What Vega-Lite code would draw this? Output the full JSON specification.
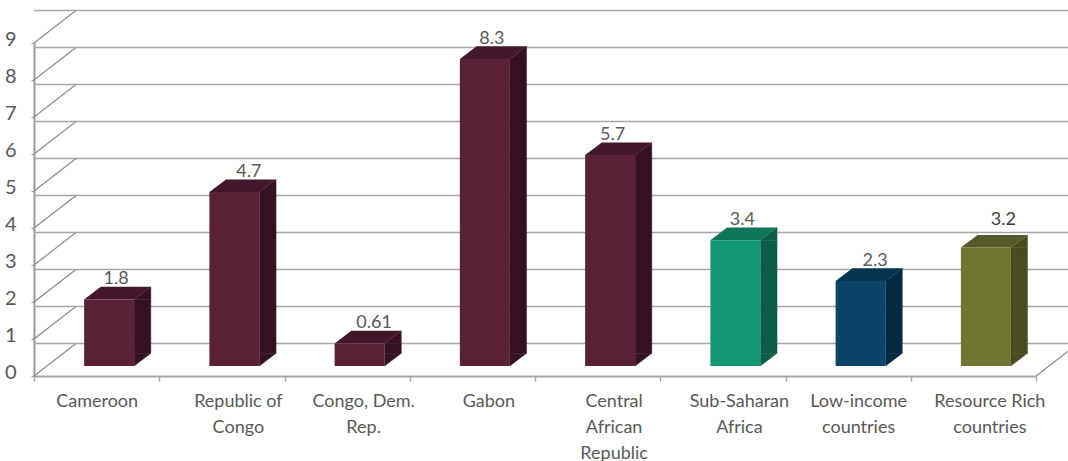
{
  "$schema": "https://vega.github.io/schema/vega-lite/v6.json",
  "width": 1002,
  "height": 333,
  "autosize": "none",
  "padding": {"left": 34, "top": 43, "right": 32, "bottom": 85},
  "background": "#ffffff",
  "config": {
    "view": {"stroke": null}
  },
  "datasets": {
    "levels": [
      {"level": 0}, {"level": 1}, {"level": 2}, {"level": 3}, {"level": 4},
      {"level": 5}, {"level": 6}, {"level": 7}, {"level": 8}, {"level": 9}
    ],
    "bars": [
      {"country": "Cameroon", "value": 1.8, "label": "1.8", "group": "Country"},
      {"country": "Republic of Congo", "value": 4.7, "label": "4.7", "group": "Country"},
      {"country": "Congo, Dem. Rep.", "value": 0.61, "label": "0.61", "group": "Country"},
      {"country": "Gabon", "value": 8.3, "label": "8.3", "group": "Country"},
      {"country": "Central African Republic", "value": 5.7, "label": "5.7", "group": "Country"},
      {"country": "Sub-Saharan Africa", "value": 3.4, "label": "3.4", "group": "Sub-Saharan Africa"},
      {"country": "Low-income countries", "value": 2.3, "label": "2.3", "group": "Low-income"},
      {"country": "Resource Rich countries", "value": 3.2, "label": "3.2", "group": "Resource Rich"}
    ]
  },
  "resolve": {"scale": {"color": "independent", "stroke": "independent"}, "axis": {"x": "independent", "y": "independent"}},
  "layer": [
    {
      "data": {"name": "levels"},
      "mark": {"type": "rule", "color": "#a6a6a6", "strokeWidth": 1.6, "xOffset": 42, "x2Offset": 42, "yOffset": -32.5},
      "encoding": {
        "y": {
          "field": "level", "type": "quantitative",
          "scale": {"domain": [0, 9], "nice": false},
          "axis": {
            "title": null, "grid": false, "values": [0, 1, 2, 3, 4, 5, 6, 7, 8, 9], "format": "d",
            "domainColor": "#9a9a9a", "domainWidth": 2, "tickColor": "#9a9a9a", "tickSize": 3, "tickWidth": 1.2,
            "labelFont": "Lato", "labelFontSize": 20, "labelColor": "#595959",
            "labelPadding": 15, "labelOffset": -4
          }
        }
      }
    },
    {
      "data": {"name": "levels"},
      "mark": {"type": "point", "shape": "M0,0L42,-32.5", "size": 4, "filled": false, "stroke": "#8c8c8c", "strokeWidth": 1.2, "opacity": 1},
      "encoding": {
        "x": {"datum": "Cameroon", "type": "nominal", "bandPosition": 0, "axis": null,
          "scale": {"type": "band", "padding": 0, "domain": ["Cameroon", "Republic of Congo", "Congo, Dem. Rep.", "Gabon", "Central African Republic", "Sub-Saharan Africa", "Low-income countries", "Resource Rich countries"]}},
        "y": {"field": "level", "type": "quantitative", "axis": null}
      }
    },
    {
      "data": {"values": [{"level": 0}]},
      "mark": {"type": "point", "shape": "M0,0L42,-32.5", "size": 4, "filled": false, "stroke": "#8c8c8c", "strokeWidth": 1.2, "opacity": 1},
      "encoding": {
        "x": {"datum": "Resource Rich countries", "type": "nominal", "bandPosition": 1, "axis": null},
        "y": {"field": "level", "type": "quantitative", "axis": null}
      }
    },
    {
      "data": {"name": "bars"},
      "resolve": {"scale": {"color": "independent", "stroke": "independent"}, "axis": {"x": "independent", "y": "independent"}},
      "encoding": {
        "x": {
          "field": "country", "type": "nominal", "sort": null,
          "axis": null
        }
      },
      "layer": [
        {
          "encoding": {
            "color": {"field": "group", "type": "nominal", "legend": null, "scale": {"domain": ["Country", "Sub-Saharan Africa", "Low-income", "Resource Rich"], "range": ["#351221", "#0c5f47", "#032a43", "#494c1e"]}},
            "stroke": {"field": "group", "type": "nominal", "legend": null, "scale": {"domain": ["Country", "Sub-Saharan Africa", "Low-income", "Resource Rich"], "range": ["#351221", "#0c5f47", "#032a43", "#494c1e"]}}
          },
          "layer": [
            {
              "mark": {"type": "bar", "width": 16.7, "xOffset": 45.85, "yOffset": -10, "y2Offset": -22.7, "strokeWidth": 0.4},
              "encoding": {
                "y": {"field": "value", "type": "quantitative", "axis": null},
                "y2": {"datum": 0}
              }
            },
            {
              "mark": {"type": "point", "shape": "M0,0L16.7,-12.7L16.7,0Z", "size": 4, "filled": true, "opacity": 1, "strokeWidth": 0.4, "xOffset": 37.5, "yOffset": -10},
              "encoding": {"y": {"field": "value", "type": "quantitative", "axis": null}}
            },
            {
              "mark": {"type": "point", "shape": "M0,0L16.7,-12.7L0,-12.7Z", "size": 4, "filled": true, "opacity": 1, "strokeWidth": 0.4, "xOffset": 37.5, "yOffset": -10},
              "encoding": {"y": {"datum": 0, "type": "quantitative", "axis": null}}
            }
          ]
        },
        {
          "mark": {"type": "point", "shape": "M0,0L-50,0L-33.3,-12.7L16.7,-12.7Z", "size": 4, "filled": true, "opacity": 1, "xOffset": 37.5, "yOffset": -10},
          "encoding": {
            "y": {"field": "value", "type": "quantitative", "axis": null},
            "color": {"field": "group", "type": "nominal", "legend": null, "scale": {"domain": ["Country", "Sub-Saharan Africa", "Low-income", "Resource Rich"], "range": ["#431729", "#0e7558", "#053450", "#56592a"]}}
          }
        },
        {
          "mark": {"type": "bar", "width": 50, "xOffset": 12.5, "yOffset": -10, "y2Offset": -10},
          "encoding": {
            "x": {
              "field": "country", "type": "nominal", "sort": null,
              "axis": {
                "title": null, "labelAngle": 0, "tickBand": "extent",
                "domainColor": "#a6a6a6", "domainWidth": 2, "tickColor": "#a6a6a6", "tickSize": 5, "tickWidth": 1.4,
                "labelFont": "Lato", "labelFontSize": 18, "labelColor": "#595959",
                "labelPadding": 11, "labelLineHeight": 26, "labelLimit": 200, "labelBaseline": "top",
                "labelOffset": {"condition": [
                  {"test": "datum.value == 'Cameroon'", "value": 0},
                  {"test": "datum.value == 'Low-income countries'", "value": 10}
                ], "value": 16},
                "labelExpr": "{'Republic of Congo':['Republic of','Congo'],'Congo, Dem. Rep.':['Congo, Dem.','Rep.'],'Central African Republic':['Central','African','Republic'],'Sub-Saharan Africa':['Sub-Saharan','Africa'],'Low-income countries':['Low-income','countries'],'Resource Rich countries':['Resource Rich','countries']}[datum.label] || datum.label"
              }
            },
            "y": {"field": "value", "type": "quantitative", "axis": null},
            "y2": {"datum": 0},
            "color": {"field": "group", "type": "nominal", "legend": null, "scale": {"domain": ["Country", "Sub-Saharan Africa", "Low-income", "Resource Rich"], "range": ["#5a2036", "#139a75", "#0a4469", "#707531"]}}
          }
        },
        {
          "transform": [{"filter": "indexof(['1.8','8.3','3.4'], datum.label) >= 0"}],
          "mark": {"type": "text", "font": "Lato", "fontSize": 18, "color": "#595959", "xOffset": 19.5, "yOffset": -25, "baseline": "alphabetic", "align": "center"},
          "encoding": {
            "y": {"field": "value", "type": "quantitative", "axis": null},
            "text": {"field": "label", "type": "nominal"}
          }
        },
        {
          "transform": [{"filter": "indexof(['4.7','0.61','2.3'], datum.label) >= 0"}],
          "mark": {"type": "text", "font": "Lato", "fontSize": 18, "color": "#595959", "xOffset": 27, "yOffset": -25, "baseline": "alphabetic", "align": "center"},
          "encoding": {
            "y": {"field": "value", "type": "quantitative", "axis": null},
            "text": {"field": "label", "type": "nominal"}
          }
        },
        {
          "transform": [{"filter": "datum.label == '5.7'"}],
          "mark": {"type": "text", "font": "Lato", "fontSize": 18, "color": "#595959", "xOffset": 15, "yOffset": -25, "baseline": "alphabetic", "align": "center"},
          "encoding": {
            "y": {"field": "value", "type": "quantitative", "axis": null},
            "text": {"field": "label", "type": "nominal"}
          }
        },
        {
          "transform": [{"filter": "datum.label == '3.2'"}],
          "mark": {"type": "text", "font": "Lato", "fontSize": 18, "color": "#404040", "xOffset": 30, "yOffset": -33, "baseline": "alphabetic", "align": "center"},
          "encoding": {
            "y": {"field": "value", "type": "quantitative", "axis": null},
            "text": {"field": "label", "type": "nominal"}
          }
        }
      ]
    }
  ]
}
